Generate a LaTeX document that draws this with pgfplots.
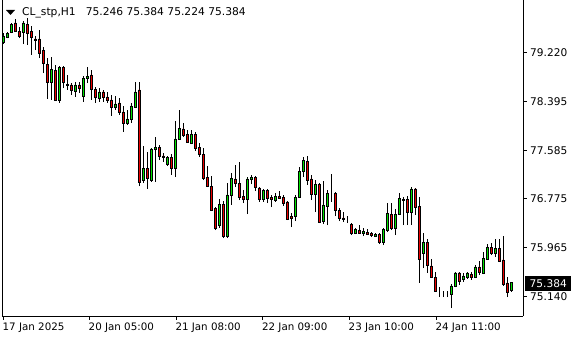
\documentclass[border=0pt]{standalone}
\usepackage{pgfplots}
\pgfplotsset{compat=1.18}
\usepackage{pgfplotstable}
\usepackage{fontspec}
\setmainfont{DejaVu Sans}
\definecolor{bull}{RGB}{0,225,0}
\definecolor{bear}{RGB}{235,0,0}

% k open high low close (hourly candles, index k)
\pgfplotstableread{
k o h l c
0 79.392 79.542 79.358 79.492
1 79.475 79.559 79.458 79.542
2 79.559 79.709 79.542 79.692
5 79.559 79.742 79.358 79.709
12 78.724 79.141 78.424 78.941
14 78.424 78.991 78.374 78.974
18 78.574 78.724 78.474 78.674
20 78.491 78.824 78.391 78.790
21 78.790 78.974 78.707 78.824
24 78.457 78.623 78.391 78.558
28 78.307 78.491 78.257 78.357
31 78.040 78.257 78.007 78.107
32 78.107 78.374 78.040 78.324
33 78.307 78.724 78.290 78.558
35 77.088 77.656 77.038 77.288
37 77.088 77.622 77.055 77.606
38 77.606 77.806 77.055 77.639
41 77.355 77.489 77.322 77.472
43 77.288 78.073 77.138 77.773
44 77.773 78.257 77.756 77.956
47 77.706 77.923 77.689 77.856
54 76.337 76.771 76.287 76.687
56 76.153 77.038 76.120 76.838
57 76.838 77.205 76.671 77.121
61 76.771 77.138 76.520 77.105
62 77.105 77.172 77.021 77.138
65 76.771 76.938 76.721 76.921
68 76.754 76.871 76.721 76.821
73 76.487 76.838 76.403 76.804
74 76.804 77.305 76.787 77.238
75 77.238 77.472 77.138 77.422
78 76.854 77.088 76.553 77.021
80 76.403 77.071 76.353 76.671
81 76.654 76.921 76.337 76.871
88 76.203 76.287 76.186 76.270
90 76.203 76.287 76.153 76.236
93 76.153 76.203 76.136 76.186
95 76.053 76.287 76.003 76.270
96 76.253 76.704 76.220 76.537
98 76.287 76.604 76.170 76.520
99 76.520 76.871 76.503 76.787
102 76.553 76.971 76.337 76.938
105 75.869 76.203 75.619 76.053
112 75.185 75.352 74.951 75.319
113 75.319 75.553 75.302 75.536
115 75.436 75.536 75.386 75.486
116 75.469 75.553 75.436 75.536
118 75.469 75.669 75.452 75.636
120 75.536 75.886 75.519 75.786
121 75.769 76.019 75.753 75.969
123 75.869 76.103 75.802 75.953
127 75.246 75.384 75.224 75.384
3 79.709 79.776 79.559 79.575
4 79.575 79.642 79.458 79.492
6 79.692 79.792 79.342 79.542
7 79.575 79.659 79.175 79.475
8 79.442 79.492 79.258 79.425
9 79.442 79.592 79.124 79.208
10 79.258 79.308 78.874 79.041
11 79.024 79.124 78.441 78.724
13 78.924 79.008 78.407 78.424
15 78.974 78.991 78.623 78.724
16 78.690 78.841 78.591 78.674
17 78.674 78.707 78.508 78.591
19 78.674 78.724 78.541 78.623
22 78.841 78.924 78.424 78.607
23 78.607 78.640 78.374 78.474
25 78.558 78.591 78.391 78.474
26 78.474 78.558 78.374 78.424
27 78.424 78.508 78.157 78.307
29 78.374 78.457 78.174 78.224
30 78.224 78.324 77.890 78.040
34 78.591 78.724 76.988 77.055
36 77.288 77.556 76.938 77.121
39 77.639 77.673 77.422 77.489
40 77.489 77.539 77.389 77.472
42 77.472 77.522 77.172 77.288
45 77.940 78.040 77.806 77.840
46 77.856 77.923 77.706 77.723
48 77.856 77.890 77.573 77.622
49 77.639 77.706 77.472 77.522
50 77.522 77.622 77.088 77.121
51 77.138 77.322 76.971 76.988
52 76.988 77.155 76.570 76.587
53 76.620 76.637 76.253 76.287
55 76.687 76.737 76.120 76.153
58 77.105 77.338 76.971 77.038
59 77.038 77.389 76.754 76.804
60 76.821 76.921 76.704 76.771
63 77.138 77.155 76.904 76.971
64 76.955 76.971 76.721 76.771
66 76.921 76.938 76.704 76.787
67 76.804 76.838 76.637 76.771
69 76.821 76.904 76.771 76.787
70 76.804 76.838 76.654 76.704
71 76.721 76.737 76.420 76.437
72 76.487 76.537 76.303 76.454
76 77.405 77.489 77.005 77.088
77 77.105 77.172 76.754 76.854
79 77.021 77.038 76.370 76.387
82 76.888 77.188 76.721 76.888
83 76.871 76.888 76.487 76.587
84 76.587 76.620 76.403 76.454
85 76.454 76.553 76.387 76.437
86 76.470 76.487 76.370 76.470
87 76.353 76.370 76.170 76.203
89 76.253 76.337 76.186 76.203
91 76.220 76.270 76.170 76.186
92 76.203 76.220 76.136 76.170
94 76.186 76.203 76.019 76.053
97 76.520 76.704 76.253 76.287
100 76.771 76.804 76.337 76.754
101 76.771 76.821 76.337 76.553
103 76.938 76.955 76.503 76.637
104 76.654 76.804 75.369 75.769
106 76.053 76.103 75.536 75.669
107 75.653 75.769 75.452 75.469
108 75.469 75.553 75.219 75.236
109 75.269 75.302 75.135 75.269
110 75.185 75.236 75.135 75.185
111 75.202 75.236 75.135 75.202
114 75.536 75.553 75.336 75.402
117 75.519 75.553 75.419 75.469
119 75.636 75.736 75.502 75.553
122 75.969 76.036 75.836 75.869
124 75.953 76.103 75.719 75.736
125 75.753 76.153 75.319 75.352
126 75.369 75.469 75.135 75.219
}\ohlc

\pgfplotsset{
  chartframe/.style={
    at={(2pt,24pt)}, anchor=south west,
    width=521pt, height=316pt, scale only axis,
    xmin=-0.325, xmax=129.925, ymin=74.818, ymax=80.093,
  },
}

\begin{document}
\begin{tikzpicture}
\useasboundingbox (0,0) rectangle (580pt,340pt);
% axis with ticks and wicks
\begin{axis}[chartframe,
  axis x line*=bottom, axis y line*=right,
  axis line style={black, line width=0.8pt},
  tick align=outside, major tick length=3.5pt,
  every tick/.style={black, line width=0.8pt},
  scaled y ticks=false,
  xtick={0,21.5,43.2,64.85,86.5,108.2},
  xticklabels={17 Jan 2025,20 Jan 05:00,21 Jan 08:00,22 Jan 09:00,23 Jan 10:00,24 Jan 11:00},
  ytick={75.140,75.965,76.775,77.585,78.395,79.220},
  yticklabels={75.140,75.965,76.775,77.585,78.395,79.220},
  xticklabel style={anchor=north west, inner sep=0pt, xshift=-0.8pt, yshift=-3pt, font=\fontsize{10.3pt}{12pt}\selectfont},
  yticklabel style={anchor=west, inner sep=0pt, xshift=3.5pt, font=\fontsize{10.6pt}{12pt}\selectfont},
]
\addplot[draw=none, mark=none, forget plot, error bars/.cd, y dir=plus, y explicit, error mark=none,
   error bar style={draw=black, line width=1pt, line cap=butt}]
   table[x=k, y=l, y error expr={\thisrow{h}-\thisrow{l}}] {\ohlc};
\end{axis}
% axis with candle bodies
\begin{axis}[chartframe, hide axis, ybar stacked, bar width=2.3pt, bar shift=0pt]
\addplot[draw=none, fill=none] table[x=k, y expr={min(\thisrow{o},\thisrow{c})}] {\ohlc};
\addplot[draw=black, line width=0.8pt, fill=bull] table[x=k, y expr={(\thisrow{c}>\thisrow{o})*(\thisrow{c}-\thisrow{o})}] {\ohlc};
\addplot[draw=black, line width=0.8pt, fill=bear] table[x=k, y expr={(1-(\thisrow{c}>\thisrow{o}))*(\thisrow{o}-\thisrow{c})}] {\ohlc};
\end{axis}
\draw[line width=0.8pt] (2pt,24pt) -- (2pt,340pt);
\fill (6pt,330pt) -- (15pt,330pt) -- (10.5pt,325pt) -- cycle;
\node[anchor=base west, inner sep=0pt, font=\fontsize{10.7pt}{12pt}\selectfont] at (22pt,324pt)
  {CL\_stp,H1\hspace{10pt}75.246 75.384 75.224 75.384};
\node[anchor=west, fill=black, text=white, inner xsep=4.5pt, inner ysep=0pt, minimum height=15pt,
  font=\fontsize{10.6pt}{12pt}\selectfont] at (525pt,56.5pt) {75.384};
\end{tikzpicture}
\end{document}
